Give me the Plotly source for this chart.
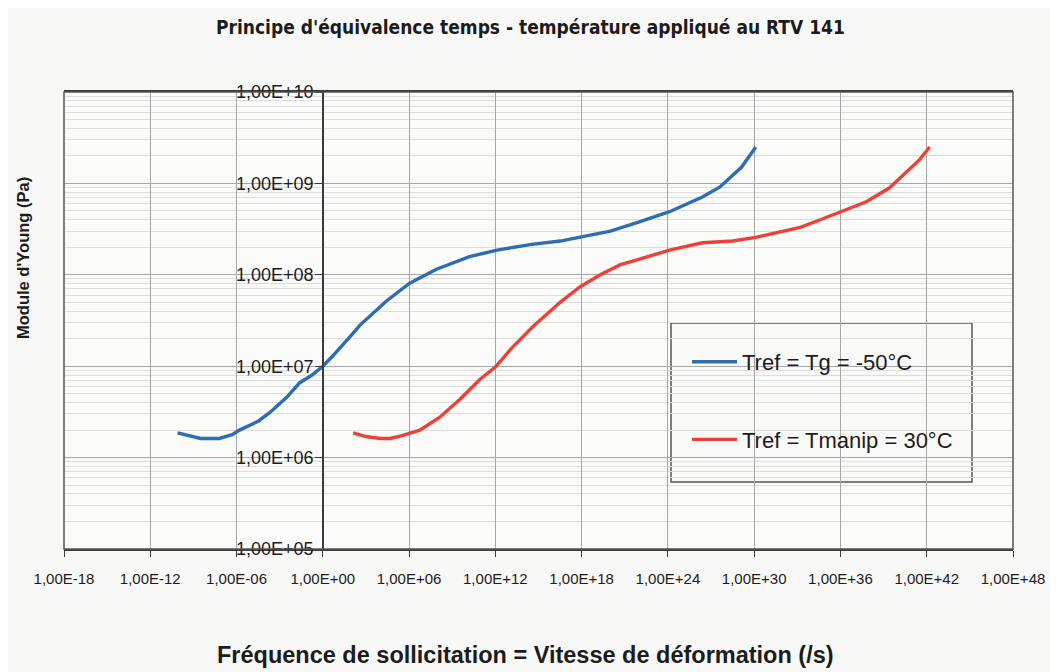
import plotly.graph_objects as go

# ---- data ----
blue_name = "Tref = Tg = -50°C"
blue_x = [7.9e-11, 1e-9, 3.2e-9, 6.3e-8, 5.0e-7, 1.6e-6, 3.2e-5, 2.0e-4, 3.2e-3, 2.5e-2,
          0.16, 1.0, 5.0, 1.3e2, 3.7e2, 2.8e4, 1.1e6, 8e7, 1.6e10, 1.3e12, 2.5e14, 3.2e16,
          1.3e18, 1e20, 6.3e21, 1.3e24, 2.5e26, 4e27, 1.3e29, 1.3e30]
blue_y = [1.86e6, 1.70e6, 1.62e6, 1.62e6, 1.78e6, 2.0e6, 2.5e6, 3.1e6, 4.6e6, 6.6e6,
          7.9e6, 1.0e7, 1.3e7, 2.3e7, 2.8e7, 5.2e7, 8.1e7, 1.15e8, 1.58e8, 1.86e8, 2.14e8, 2.34e8,
          2.63e8, 3.0e8, 3.7e8, 4.9e8, 7.1e8, 9.1e8, 1.5e9, 2.5e9]

red_name = "Tref = Tmanip = 30°C"
red_x = [1.3e2, 1e3, 1e4, 5e4, 3.2e5, 5.6e6, 1.3e8, 3.2e9, 8e10, 1e12, 1.6e13, 4e14,
         3.2e16, 8e17, 2e19, 5e20, 6.3e21, 1.3e24, 2.5e26, 3.2e28, 1.3e30, 1.6e33, 4e34,
         1e36, 6.3e37, 2.5e39, 6.3e40, 3.2e41, 1.6e42]
red_y = [1.86e6, 1.70e6, 1.62e6, 1.62e6, 1.74e6, 2.0e6, 2.75e6, 4.3e6, 7.1e6, 9.8e6, 1.62e7, 2.7e7,
         5.0e7, 7.4e7, 1.0e8, 1.29e8, 1.45e8, 1.86e8, 2.24e8, 2.34e8, 2.57e8, 3.3e8, 4.0e8,
         4.9e8, 6.3e8, 8.9e8, 1.41e9, 1.82e9, 2.5e9]

x_tickvals = [1e-18, 1e-12, 1e-6, 1e0, 1e6, 1e12, 1e18, 1e24, 1e30, 1e36, 1e42, 1e48]
x_ticktext = ["1,00E-18", "1,00E-12", "1,00E-06", "1,00E+00", "1,00E+06", "1,00E+12",
              "1,00E+18", "1,00E+24", "1,00E+30", "1,00E+36", "1,00E+42", "1,00E+48"]
y_tickvals = [1e5, 1e6, 1e7, 1e8, 1e9, 1e10]
y_ticktext = ["1,00E+05", "1,00E+06", "1,00E+07", "1,00E+08", "1,00E+09", "1,00E+10"]

title_text = "Principe d'équivalence temps - température appliqué au RTV 141"
x_title = "Fréquence de sollicitation = Vitesse de déformation (/s)"
y_title = "Module d'Young (Pa)"

# ---- layout geometry (page body adds an 8px offset) ----
OFF = 8
W, H = 1058 - OFF, 672 - OFF
PL, PR, PT, PB = 64, 1013, 92, 549          # plot area in screen pixels
L, T = PL - OFF, PT - OFF
R, B = W - (PR - OFF), H - (PB - OFF)
pw, ph = PR - PL, PB - PT


def fx(px):
    return (px - PL) / pw


def fy(py):
    return 1 - (py - PT) / ph


FONT = "Liberation Sans, Arial, sans-serif"
NARROW = "Liberation Sans Narrow, Arial Narrow, DejaVu Sans Condensed, Liberation Sans"

minor_y = [m * 10 ** k for k in range(5, 10) for m in range(2, 10)]

fig = go.Figure()
fig.add_trace(go.Scatter(x=blue_x, y=blue_y, mode="lines", name=blue_name,
                         legendgroup="a",
                         line=dict(color="#2f6db3", width=3.4)))
fig.add_trace(go.Scatter(x=red_x, y=red_y, mode="lines", name=red_name,
                         legendgroup="b",
                         line=dict(color="#ec4139", width=3.4)))

fig.update_layout(
    width=W, height=H,
    margin=dict(l=L, r=R, t=T, b=B, pad=0),
    paper_bgcolor="#f8f8f7",
    plot_bgcolor="#fbfbfa",
    font=dict(family=FONT, color="#1c1c1c"),
    showlegend=True,
    legend=dict(
        x=fx(687), y=fy(341),
        xanchor="left", yanchor="top",
        bgcolor="rgba(0,0,0,0)", borderwidth=0,
        font=dict(family=FONT, size=22, color="#1c1c1c"),
        tracegroupgap=46, itemwidth=45,
    ),
    xaxis=dict(
        type="log", range=[-18, 48],
        tickmode="array", tickvals=x_tickvals, ticktext=x_ticktext,
        tickfont=dict(family=FONT, size=15, color="#1c1c1c"),
        ticklabelstandoff=9,
        showgrid=True, gridcolor="#a8a8a8", gridwidth=1,
        showline=True, linecolor="#3a3a3a", linewidth=1.5, mirror=True,
        ticks="outside", ticklen=6, tickcolor="#3a3a3a",
        zeroline=False,
    ),
    yaxis=dict(
        type="log", range=[5, 10],
        anchor="free", position=18 / 66,
        tickmode="array", tickvals=y_tickvals, ticktext=y_ticktext,
        tickfont=dict(family=FONT, size=18, color="#1c1c1c"),
        ticklabelstandoff=-2,
        showgrid=True, gridcolor="#a8a8a8", gridwidth=1,
        minor=dict(tickmode="array", tickvals=minor_y, showgrid=True,
                   gridcolor="#dedede", gridwidth=1, ticks=""),
        showline=True, linecolor="#3a3a3a", linewidth=1.5,
        ticks="outside", ticklen=7, tickcolor="#3a3a3a",
        zeroline=False,
    ),
)

# plot frame and legend box
fig.add_shape(type="rect", xref="paper", yref="paper", x0=0, x1=1, y0=0, y1=1,
              line=dict(color="#555555", width=1.5), layer="above")
fig.add_shape(type="rect", xref="paper", yref="paper",
              x0=fx(671), x1=fx(972), y0=fy(482), y1=fy(323),
              line=dict(color="#555555", width=1.5), fillcolor="#f9f9f8", layer="below")

fig.add_annotation(text="<b>" + title_text + "</b>", xref="paper", yref="paper",
                   x=fx(530), y=fy(27), showarrow=False,
                   xanchor="center", yanchor="middle",
                   font=dict(family=NARROW, size=19, color="#1c1c1c"))
fig.add_annotation(text="<b>" + x_title + "</b>", xref="paper", yref="paper",
                   x=fx(525), y=fy(655), showarrow=False,
                   xanchor="center", yanchor="middle",
                   font=dict(family=FONT, size=23.5, color="#1c1c1c"))
fig.add_annotation(text="<b>" + y_title + "</b>", xref="paper", yref="paper",
                   x=fx(23), y=fy(258), showarrow=False,
                   xanchor="center", yanchor="middle", textangle=-90,
                   font=dict(family=FONT, size=16.5, color="#1c1c1c"))

fig.write_html("out.html")
